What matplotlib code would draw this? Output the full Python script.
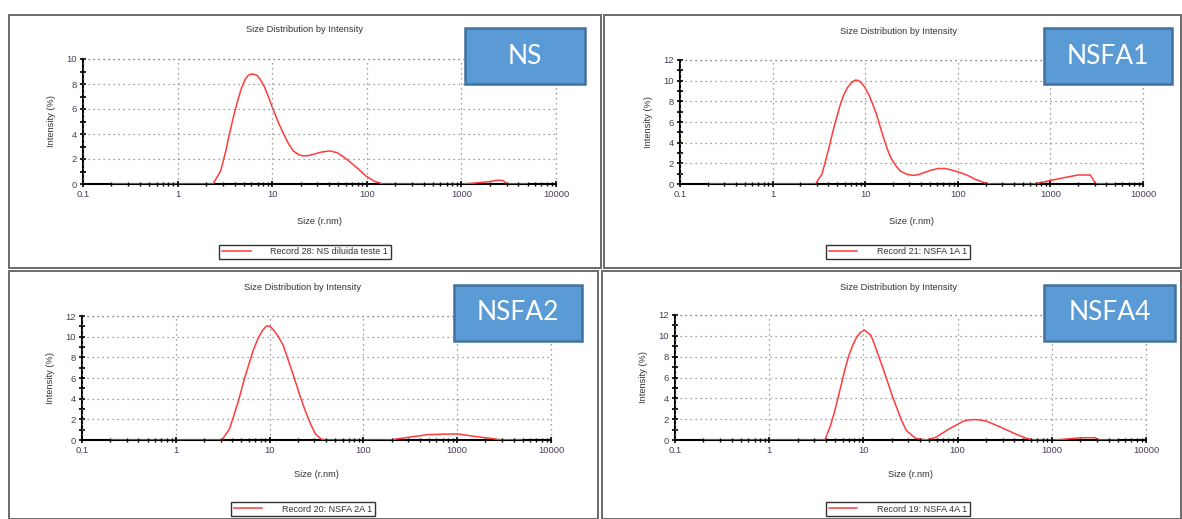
import matplotlib
matplotlib.use('Agg')
import matplotlib.pyplot as plt
from matplotlib.patches import Rectangle
from matplotlib.ticker import LogLocator, MultipleLocator, NullFormatter

plt.rcParams['font.family'] = ['Liberation Sans', 'DejaVu Sans']

W, H = 1182, 519

# Size distributions (r.nm vs intensity %)
ns_size = [0.2, 2.37, 2.85, 3.2, 3.53, 3.9, 4.33, 4.75, 5.2, 5.6, 6.0, 6.4, 6.9, 7.5, 8.3, 9.1, 10, 11.5,
           13.2, 14.8, 16.7, 18.7, 21, 24, 27.9, 33, 40.5, 48.7, 56, 64.5, 80, 98, 120, 148, 1020, 1250,
           1500, 2000, 2430, 2750, 3060, 5000]
ns_int = [0, 0, 1.05, 2.5, 4.0, 5.4, 6.7, 7.7, 8.4, 8.7, 8.8, 8.78, 8.7, 8.35, 7.75, 7.0, 6.15, 5.0,
          4.0, 3.25, 2.65, 2.38, 2.25, 2.27, 2.4, 2.55, 2.65, 2.5, 2.2, 1.85, 1.25, 0.64, 0.22, 0, 0, 0.05,
          0.1, 0.2, 0.3, 0.28, 0, 0]

nsfa1_size = [0.2, 2.9, 3.4, 3.7, 4.06, 4.45, 4.9, 5.35, 5.85, 6.4, 7.0, 7.45, 7.9, 8.5, 9.2, 10, 11,
              12.1, 13.3, 14.5, 15.8, 17.3, 19, 21.3, 24, 28, 33, 38, 43, 52, 62, 72, 82, 107, 130,
              155, 204, 230, 660, 955, 1380, 1990, 2700, 3100, 5000]
nsfa1_int = [0, 0, 0.93, 2.1, 3.5, 5.0, 6.4, 7.6, 8.6, 9.3, 9.74, 9.95, 10.06, 10.0, 9.74, 9.3, 8.6,
             7.7, 6.7, 5.55, 4.45, 3.4, 2.5, 1.8, 1.25, 0.95, 0.83, 0.92, 1.1, 1.35, 1.5, 1.5, 1.4, 1.1, 0.8,
             0.45, 0.05, 0, 0, 0.3, 0.6, 0.87, 0.87, 0, 0]

nsfa2_size = [0.2, 3.1, 3.74, 4.2, 4.73, 5.3, 5.97, 6.7, 7.55, 8.4, 9.27, 10.1, 11, 12.4, 13.9, 16, 18.4,
              21.2, 24.3, 27.5, 30.8, 35.3, 39, 190, 302, 487, 850, 1020, 1640, 2880, 5000]
nsfa2_int = [0, 0, 1.07, 2.5, 4.0, 5.7, 7.24, 8.7, 9.84, 10.6, 11.04, 11.0, 10.65, 10.0, 9.2, 7.6, 5.95,
             4.2, 2.7, 1.5, 0.58, 0.1, 0, 0, 0.26, 0.52, 0.58, 0.58, 0.32, 0.03, 0]

nsfa4_size = [0.2, 3.9, 4.47, 4.9, 5.35, 5.85, 6.4, 7.0, 7.7, 8.4, 9.2, 10.3, 12, 13.1, 14.4, 16.2, 18.1,
              20.3, 22.8, 25.5, 28.6, 35.8, 47, 59, 81, 100, 116, 133, 152, 175, 200, 288, 412, 540,
              645, 1070, 1460, 2100, 2870, 3160, 5000]
nsfa4_int = [0, 0, 1.38, 2.6, 3.95, 5.4, 6.85, 8.1, 9.1, 9.8, 10.3, 10.55, 10.06, 9.2, 8.13, 6.85, 5.56,
             4.2, 3.0, 1.85, 0.9, 0.16, 0, 0.26, 1.06, 1.5, 1.83, 1.93, 1.96, 1.92, 1.83, 1.22, 0.58, 0.16,
             0, 0, 0.1, 0.22, 0.22, 0, 0]

tags = ['NS', 'NSFA1', 'NSFA2', 'NSFA4']
records = ['Record 28: NS diluida teste 1', 'Record 21: NSFA 1A 1',
           'Record 20: NSFA 2A 1', 'Record 19: NSFA 4A 1']
ymax = [10, 12, 12, 12]
sizes = [ns_size, nsfa1_size, nsfa2_size, nsfa4_size]
intens = [ns_int, nsfa1_int, nsfa2_int, nsfa4_int]

# pixel layout: frame (x0, y0, x1, y1), axes (left, top, right, bottom), tag box, text rows
frames = [(9, 15, 601, 268), (604, 15, 1181, 268), (9, 271, 598, 519), (602, 271, 1181, 519)]
axes_px = [(83, 59, 556, 184), (680, 60, 1143, 184), (82, 316, 551, 440), (675, 315, 1146, 440)]
tag_px = [(465, 28, 585, 84), (1044, 28, 1172, 84), (454, 285, 582, 341), (1044, 285, 1175, 341)]
title_y = [30, 31, 288, 287]
xlabel_y = [217, 217, 470, 470]
legend_y = [252, 252, 509, 509]
center_x = [305, 898, 303, 898]

RED = '#ff3b3b'
TICK_TXT = '#4a3d5c'
DOTS = (0, (1, 3))


def fx(px):
    return px / W


def fy(py):
    return 1 - py / H


fig = plt.figure(figsize=(W / 100, H / 100), dpi=100)
fig.patch.set_facecolor('white')

for i in range(4):
    x0, y0, x1, y1 = frames[i]
    fig.add_artist(Rectangle((fx(x0), fy(y1)), fx(x1 - x0), (y1 - y0) / H, transform=fig.transFigure,
                             fill=False, edgecolor='#6a6a6a', linewidth=1.4))

    l, t, r, b = axes_px[i]
    ax = fig.add_axes([fx(l), fy(b), fx(r - l), (b - t) / H])
    ax.set_xscale('log')
    ax.set_xlim(0.1, 10000)
    ax.set_ylim(0, ymax[i])

    line, = ax.plot(sizes[i], intens[i], color=RED, linewidth=1.1, zorder=2.6, label=records[i])

    ax.set_xticks([0.1, 1, 10, 100, 1000, 10000])
    ax.set_xticklabels(['0.1', '1', '10', '100', '1000', '10000'])
    ax.xaxis.set_minor_locator(LogLocator(base=10, subs=range(2, 10), numticks=10))
    ax.xaxis.set_minor_formatter(NullFormatter())
    ax.yaxis.set_major_locator(MultipleLocator(2))
    ax.yaxis.set_minor_locator(MultipleLocator(1))

    ax.tick_params(which='both', direction='inout', color='black', width=1.2,
                   labelsize=6.8, labelcolor=TICK_TXT, pad=2)
    ax.tick_params(which='major', length=5)
    ax.tick_params(axis='y', which='minor', length=4)
    ax.tick_params(axis='x', which='minor', length=3, width=1.0)
    ax.xaxis.set_zorder(3)

    ax.grid(True, which='major', linestyle=DOTS, color='#808080', linewidth=0.9)
    for side in ['top', 'right']:
        ax.spines[side].set_visible(False)
    for side in ['left', 'bottom']:
        ax.spines[side].set_linewidth(1.5)
        ax.spines[side].set_color('black')
    # dotted closing lines along the top and right edges
    ax.axhline(ymax[i], color='#808080', linestyle=DOTS, linewidth=0.9, clip_on=False)
    ax.axvline(10000, color='#808080', linestyle=DOTS, linewidth=0.9, clip_on=False)

    ax.set_xlabel('Size (r.nm)', fontsize=6.7, color='#333333')
    ax.set_ylabel('Intensity (%)', fontsize=6.7, color='#333333')
    ax.xaxis.set_label_coords(0.5, -(xlabel_y[i] - b) / (b - t))
    ax.yaxis.set_label_coords(-27 / (r - l), 0.5)

    fig.text(fx(center_x[i]), fy(title_y[i]), 'Size Distribution by Intensity',
             ha='center', va='center', fontsize=6.7, color='#333333')

    leg = fig.legend(handles=[line], loc='center', bbox_to_anchor=(fx(center_x[i]), fy(legend_y[i])),
                     bbox_transform=fig.transFigure, fontsize=6.5, frameon=True, fancybox=False,
                     handlelength=3.2, handletextpad=2.2, borderpad=0.25, borderaxespad=0)
    leg.get_frame().set_edgecolor('black')
    leg.get_frame().set_linewidth(1.0)
    for txt in leg.get_texts():
        txt.set_color('#333333')

    bx0, by0, bx1, by1 = tag_px[i]
    fig.add_artist(Rectangle((fx(bx0), fy(by1)), fx(bx1 - bx0), (by1 - by0) / H, transform=fig.transFigure,
                             facecolor='#5b9bd5', edgecolor='#41719c', linewidth=1.8, zorder=5))
    fig.text(fx((bx0 + bx1) / 2), fy((by0 + by1) / 2), tags[i], ha='center', va='center',
             fontsize=19, color='white', family=['Lato', 'DejaVu Sans'], zorder=6)

fig.savefig('out.png', dpi=100)
